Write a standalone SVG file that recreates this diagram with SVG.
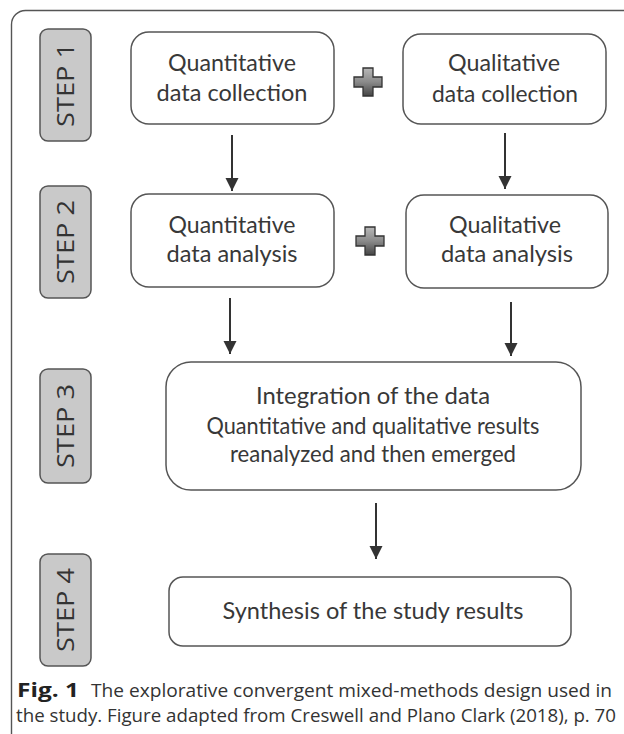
<svg xmlns="http://www.w3.org/2000/svg" width="624" height="734" viewBox="0 0 624 734">
<defs>
  <linearGradient id="plusGrad" x1="0" y1="0" x2="0" y2="1">
    <stop offset="0" stop-color="#b8b8b8"/>
    <stop offset="0.5" stop-color="#8a8a8a"/>
    <stop offset="1" stop-color="#454545"/>
  </linearGradient>
  <marker id="arrow" markerUnits="userSpaceOnUse" markerWidth="14" markerHeight="14" refX="13" refY="6.5" orient="auto">
    <path d="M0,0 L13,6.5 L0,13 Z" fill="#333"/>
  </marker>
  <path id="plus" d="M-5,-14 H5 V-5 H14 V5 H5 V14 H-5 V5 H-14 V-5 H-5 Z"/>
</defs>
<style>
  .frame { fill: none; stroke: #555; stroke-width: 1.4; }
  .step { fill: #c9c9c9; stroke: #555; stroke-width: 1.5; }
  .box { fill: #fff; stroke: #555; stroke-width: 1.5; }
  .lbl { font-family: Lato, "Open Sans", "Liberation Sans", sans-serif; font-size: 23px; fill: #383838; text-anchor: middle; }
  .steplbl { font-family: "Open Sans", Lato, "Liberation Sans", sans-serif; font-size: 23px; fill: #333; text-anchor: middle; }
  .cap { font-family: "Open Sans", Lato, "Liberation Sans", sans-serif; font-size: 19px; fill: #333; }
  .capb { font-weight: bold; fill: #222; }
  .plus { fill: url(#plusGrad); stroke: #333; stroke-width: 1.3; }
  .conn { stroke: #333; stroke-width: 2; fill: none; marker-end: url(#arrow); }
</style>

<rect class="frame" x="11.5" y="10.5" width="660" height="760" rx="14"/>

<g id="step1">
  <rect class="step" x="40" y="29" width="51" height="112" rx="8"/>
  <text class="steplbl" x="74" y="85" transform="rotate(-90 74 85)" textLength="84" lengthAdjust="spacingAndGlyphs">STEP 1</text>
</g>
<g id="step2">
  <rect class="step" x="40" y="186" width="51" height="112" rx="8"/>
  <text class="steplbl" x="74" y="242" transform="rotate(-90 74 242)" textLength="84" lengthAdjust="spacingAndGlyphs">STEP 2</text>
</g>
<g id="step3">
  <rect class="step" x="40" y="369" width="51" height="114" rx="8"/>
  <text class="steplbl" x="74" y="426" transform="rotate(-90 74 426)" textLength="84" lengthAdjust="spacingAndGlyphs">STEP 3</text>
</g>
<g id="step4">
  <rect class="step" x="40" y="554" width="51" height="112" rx="8"/>
  <text class="steplbl" x="74" y="610" transform="rotate(-90 74 610)" textLength="84" lengthAdjust="spacingAndGlyphs">STEP 4</text>
</g>

<g id="quant-collection">
  <rect class="box" x="131" y="32" width="203" height="92" rx="18"/>
  <text class="lbl" x="232" y="71" textLength="128" lengthAdjust="spacingAndGlyphs">Quantitative</text>
  <text class="lbl" x="232" y="101" textLength="151" lengthAdjust="spacingAndGlyphs">data collection</text>
</g>
<g id="qual-collection">
  <rect class="box" x="403" y="34" width="203" height="90" rx="18"/>
  <text class="lbl" x="504" y="71" textLength="112" lengthAdjust="spacingAndGlyphs">Qualitative</text>
  <text class="lbl" x="505" y="102" textLength="146" lengthAdjust="spacingAndGlyphs">data collection</text>
</g>
<g id="plus1">
  <use href="#plus" class="plus" x="368" y="82"/>
</g>

<g id="quant-analysis">
  <rect class="box" x="131" y="194" width="203" height="93" rx="18"/>
  <text class="lbl" x="232" y="233" textLength="127" lengthAdjust="spacingAndGlyphs">Quantitative</text>
  <text class="lbl" x="232" y="262" textLength="131" lengthAdjust="spacingAndGlyphs">data analysis</text>
</g>
<g id="qual-analysis">
  <rect class="box" x="406" y="195" width="202" height="93" rx="18"/>
  <text class="lbl" x="505" y="233" textLength="112" lengthAdjust="spacingAndGlyphs">Qualitative</text>
  <text class="lbl" x="507" y="262" textLength="132" lengthAdjust="spacingAndGlyphs">data analysis</text>
</g>
<g id="plus2">
  <use href="#plus" class="plus" x="370" y="241"/>
</g>

<g id="integration">
  <rect class="box" x="166" y="362" width="415" height="128" rx="25"/>
  <text class="lbl" x="373" y="404" textLength="234" lengthAdjust="spacingAndGlyphs">Integration of the data</text>
  <text class="lbl" x="373" y="434" font-size="20" textLength="333" lengthAdjust="spacingAndGlyphs">Quantitative and qualitative results</text>
  <text class="lbl" x="373" y="462" font-size="20" textLength="286" lengthAdjust="spacingAndGlyphs">reanalyzed and then emerged</text>
</g>

<g id="synthesis">
  <rect class="box" x="169" y="577" width="402" height="69" rx="14"/>
  <text class="lbl" x="373" y="619" textLength="301" lengthAdjust="spacingAndGlyphs">Synthesis of the study results</text>
</g>

<g id="connectors">
  <line class="conn" x1="232" y1="135" x2="232" y2="191"/>
  <line class="conn" x1="505" y1="133" x2="505" y2="189"/>
  <line class="conn" x1="230" y1="298" x2="230" y2="354"/>
  <line class="conn" x1="511" y1="302" x2="511" y2="356"/>
  <line class="conn" x1="376" y1="503" x2="376" y2="559"/>
</g>

<g id="caption">
  <text class="cap capb" x="17" y="697" font-size="20" textLength="62" lengthAdjust="spacingAndGlyphs">Fig. 1</text>
  <text class="cap" x="91" y="697" textLength="521" lengthAdjust="spacingAndGlyphs">The explorative convergent mixed-methods design used in</text>
  <text class="cap" x="16" y="722" textLength="600" lengthAdjust="spacingAndGlyphs">the study. Figure adapted from Creswell and Plano Clark (2018), p. 70</text>
</g>
</svg>
